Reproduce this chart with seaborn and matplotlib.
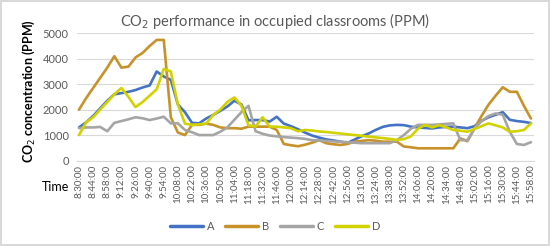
import matplotlib
matplotlib.use("Agg")
import matplotlib.pyplot as plt
import numpy as np
import pandas as pd
import seaborn as sns

# minutes after 8:30, one reading every 7 minutes
minutes = list(range(0, 449, 7))

room_a = [1300, 1500, 1750, 2050, 2350, 2600, 2650, 2700, 2770, 2870,
          2950, 3500, 3300, 3170, 2200, 1900, 1480, 1460, 1650, 1790,
          1950, 2120, 2350, 2200, 1580, 1590, 1590, 1530, 1720, 1450,
          1350, 1230, 1100, 980, 900, 830, 790, 740, 690, 820,
          950, 1060, 1200, 1320, 1380, 1400, 1390, 1330, 1300, 1280,
          1260, 1300, 1320, 1330, 1300, 1270, 1350, 1560, 1700, 1800,
          1900, 1600, 1550, 1520, 1470]
room_b = [2000, 2450, 2850, 3250, 3650, 4100, 3650, 3690, 4050, 4230,
          4500, 4740, 4740, 1700, 1100, 1000, 1400, 1400, 1450, 1400,
          1300, 1270, 1270, 1250, 1330, 1330, 1330, 1330, 1200, 650,
          600, 560, 620, 700, 800, 680, 640, 610, 650, 740,
          770, 800, 780, 740, 740, 740, 550, 520, 480, 480,
          480, 480, 480, 480, 870, 760, 1265, 1750, 2200, 2550,
          2880, 2700, 2700, 2150, 1650]
room_c = [1270, 1300, 1300, 1320, 1150, 1480, 1550, 1620, 1700, 1660,
          1590, 1650, 1720, 1460, 1460, 1200, 1110, 1000, 1000, 1000,
          1130, 1300, 1600, 1900, 2150, 1150, 1050, 980, 950, 920,
          900, 880, 850, 800, 790, 770, 750, 740, 720, 700,
          680, 680, 680, 680, 680, 800, 1000, 1250, 1400, 1400,
          1400, 1420, 1440, 1460, 800, 800, 1250, 1550, 1750, 1850,
          1800, 1130, 650, 610, 720]
room_d = [1000, 1500, 1700, 2000, 2300, 2600, 2850, 2500, 2100, 2300,
          2550, 2800, 3600, 3500, 2200, 1450, 1400, 1420, 1450, 1790,
          2000, 2300, 2480, 2150, 1380, 1340, 1700, 1330, 1330, 1300,
          1270, 1150, 1200, 1180, 1140, 1120, 1090, 1060, 1030, 1000,
          970, 940, 910, 880, 850, 810, 840, 950, 1250, 1400,
          1300, 1390, 1300, 1200, 1170, 1130, 1240, 1350, 1460, 1380,
          1300, 1130, 1150, 1200, 1460]

rooms = ["A", "B", "C", "D"]
colors = ["#4472C4", "#C8922A", "#A5A5A5", "#D2D200"]

tick_minutes = list(range(0, 449, 14))
tick_labels = ["{}:{:02d}:00".format((510 + m) // 60, (510 + m) % 60) for m in tick_minutes]

df = pd.DataFrame({
    "minute": minutes * 4,
    "ppm": room_a + room_b + room_c + room_d,
    "room": np.repeat(rooms, len(minutes)),
})

sns.set_style("white")
plt.rcParams["font.family"] = ["Lato", "DejaVu Sans"]
grey = "#595959"

fig = plt.figure(figsize=(5.5, 2.46), dpi=100)
fig.patch.set_edgecolor("#D9D9D9")
fig.patch.set_linewidth(1.5)
ax = fig.add_axes([77 / 550, 1 - 160.5 / 246, 457 / 550, 127.2 / 246])

sns.lineplot(data=df, x="minute", y="ppm", hue="room", palette=colors,
             linewidth=1.9, ax=ax, legend=False)

ax.set_xlim(-2, 451)
ax.set_ylim(0, 5000)
ax.set_yticks(range(0, 5001, 1000))
ax.set_xticks(tick_minutes)
ax.set_xticklabels(tick_labels, rotation=90, fontsize=7, color=grey)
ax.tick_params(axis="y", labelsize=8, colors=grey, length=0, pad=6)
ax.tick_params(axis="x", length=0, pad=3)
ax.grid(axis="y", color="#D9D9D9", linewidth=0.8)
ax.set_axisbelow(True)
for side in ["top", "right", "left"]:
    ax.spines[side].set_visible(False)
ax.spines["bottom"].set_color("#D9D9D9")
ax.set_xlabel("")
ax.set_ylabel("CO$_2$ concentration (PPM)", fontsize=9, fontweight="bold", color="black")
ax.yaxis.set_label_coords(-40 / 457, 0.55)

fig.text(0.5, 1 - 21 / 246, "CO$_2$ performance in occupied classrooms (PPM)",
         ha="center", va="center", fontsize=10.5, color=grey)
fig.text(42 / 550, 1 - 187 / 246, "Time", ha="left", va="center", fontsize=9, color="black")

handles = [plt.Line2D([], [], color=c, linewidth=2.5) for c in colors]
fig.legend(handles, rooms, loc="center", bbox_to_anchor=(0.5, 1 - 226 / 246), ncol=4,
           frameon=False, fontsize=8, handlelength=3.0, handletextpad=0.3,
           columnspacing=1.0, labelcolor=grey)

plt.savefig("out.png", dpi=100)
